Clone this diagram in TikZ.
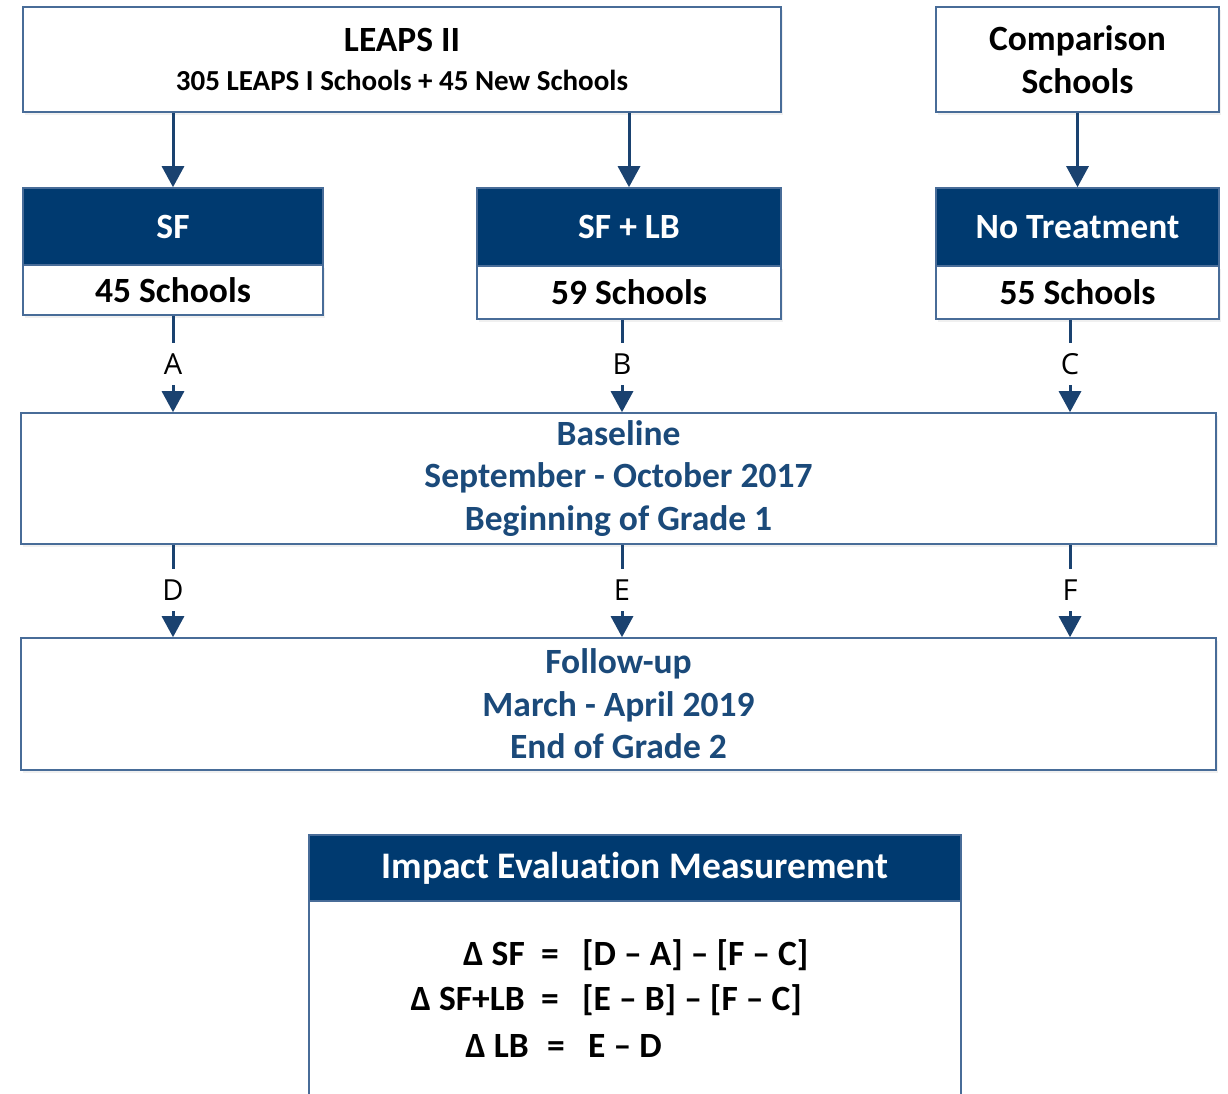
\documentclass[tikz,border=0pt]{standalone}
\usepackage{fontspec}
\setmainfont{Carlito}[RawFeature=-liga]
\newfontfamily\lblfont{Open Sans}
\usetikzlibrary{arrows.meta,shadows}
\definecolor{hdr}{HTML}{003A70}
\definecolor{bord}{RGB}{72,108,152}
\definecolor{conn}{HTML}{1A4270}
\definecolor{dtext}{HTML}{1B4A7A}
\tikzset{
  boxshadow/.style={drop shadow={opacity=0.12,shadow xshift=1.5pt,shadow yshift=-3pt}},
  plainbox/.style={draw=bord,line width=1.6pt,fill=white,inner sep=0pt,align=center,boxshadow,
     font=\bfseries\fontsize{35.5}{42.5}\selectfont},
  hdrbox/.style={draw=bord,line width=1.6pt,fill=hdr,text=white,inner sep=0pt,align=center,
     font=\bfseries\fontsize{35.5}{42}\selectfont},
  lbl/.style={font=\lblfont\fontsize{29}{30}\selectfont,minimum height=42pt,inner sep=0pt},
  conline/.style={draw=conn,line width=3pt},
  conarrow/.style={conline,-{Triangle[width=22pt,length=21pt]}},
  eqf/.style={inner sep=0pt,font=\bfseries\fontsize{35.5}{36}\selectfont},
}
\begin{document}
\begin{tikzpicture}[x=1pt,y=-1pt]
\useasboundingbox (0,0) rectangle (1228,1094);
% top boxes
\node[plainbox,minimum width=758pt,minimum height=105pt] (leaps) at (402,59.5)
  {LEAPS II\\[-4pt]{\fontsize{29}{32}\selectfont 305 LEAPS I Schools + 45 New Schools}};
\node[plainbox,minimum width=283pt,minimum height=105pt] (comp) at (1077.5,59.5)
  {Comparison\\Schools};
% treatment boxes
\node[plainbox,minimum width=300pt,minimum height=50pt] (sfB) at (173,290) {45 Schools};
\node[hdrbox,minimum width=300pt,minimum height=77pt] (sfH) at (173,226.5) {SF};
\node[plainbox,minimum width=304pt,minimum height=53pt] (lbB) at (629,292.5) {59 Schools};
\node[hdrbox,minimum width=304pt,minimum height=78pt] (lbH) at (629,227) {SF + LB};
\node[plainbox,minimum width=283pt,minimum height=53pt] (ntB) at (1077.5,292.5) {55 Schools};
\node[hdrbox,minimum width=283pt,minimum height=78pt] (ntH) at (1077.5,227) {No Treatment};
% baseline / follow-up
\node[plainbox,text=dtext,minimum width=1195pt,minimum height=131pt] (base) at (618.5,478.5)
  {Baseline\\September - October 2017\\Beginning of Grade 1};
\node[plainbox,text=dtext,minimum width=1195pt,minimum height=132pt] (fol) at (618.5,704)
  {Follow-up\\March - April 2019\\End of Grade 2};
% top arrows
\draw[conarrow] (leaps.south -| sfH.north) -- (sfH.north);
\draw[conarrow] (leaps.south -| lbH.north) -- (lbH.north);
\draw[conarrow] (comp.south) -- (ntH.north);
% labelled arrows
\node[lbl] (lA) at (173,364) {A};
\node[lbl] (lB) at (622,364) {B};
\node[lbl] (lC) at (1070,364) {C};
\node[lbl] (lD) at (173,590) {D};
\node[lbl] (lE) at (622,590) {E};
\node[lbl] (lF) at (1070,590) {F};
\draw[conline] (sfB.south -| lA) -- (lA.north);
\draw[conline] (lbB.south -| lB) -- (lB.north);
\draw[conline] (ntB.south -| lC) -- (lC.north);
\draw[conarrow] (lA.south) -- (base.north -| lA);
\draw[conarrow] (lB.south) -- (base.north -| lB);
\draw[conarrow] (lC.south) -- (base.north -| lC);
\draw[conline] (base.south -| lD) -- (lD.north);
\draw[conline] (base.south -| lE) -- (lE.north);
\draw[conline] (base.south -| lF) -- (lF.north);
\draw[conarrow] (lD.south) -- (fol.north -| lD);
\draw[conarrow] (lE.south) -- (fol.north -| lE);
\draw[conarrow] (lF.south) -- (fol.north -| lF);
% impact evaluation box
\node[inner sep=0pt,minimum width=652pt,minimum height=194pt,fill=white] (impB) at (635,998) {};
\draw[bord,line width=1.6pt] (impB.north west) -- (impB.south west);
\draw[bord,line width=1.6pt] (impB.north east) -- (impB.south east);
\node[hdrbox,minimum width=652pt,minimum height=66pt,font=\bfseries\fontsize{37.5}{40}\selectfont] (impH) at (635,868) {Impact Evaluation Measurement};
\node[eqf,anchor=base east] (e1l) at (525,965) {Δ SF};
\node[eqf,anchor=base] (e1m) at (550,965) {=};
\node[eqf,anchor=base west] (e1r) at (582,965) {[D – A] – [F – C]};
\node[eqf,anchor=base east] (e2l) at (525,1010) {Δ SF+LB};
\node[eqf,anchor=base] (e2m) at (550,1010) {=};
\node[eqf,anchor=base west] (e2r) at (582,1010) {[E – B] – [F – C]};
\node[eqf,anchor=base east] (e3l) at (529,1057) {Δ LB};
\node[eqf,anchor=base] (e3m) at (556,1057) {=};
\node[eqf,anchor=base west] (e3r) at (588,1057) {E – D};
\end{tikzpicture}
\end{document}
